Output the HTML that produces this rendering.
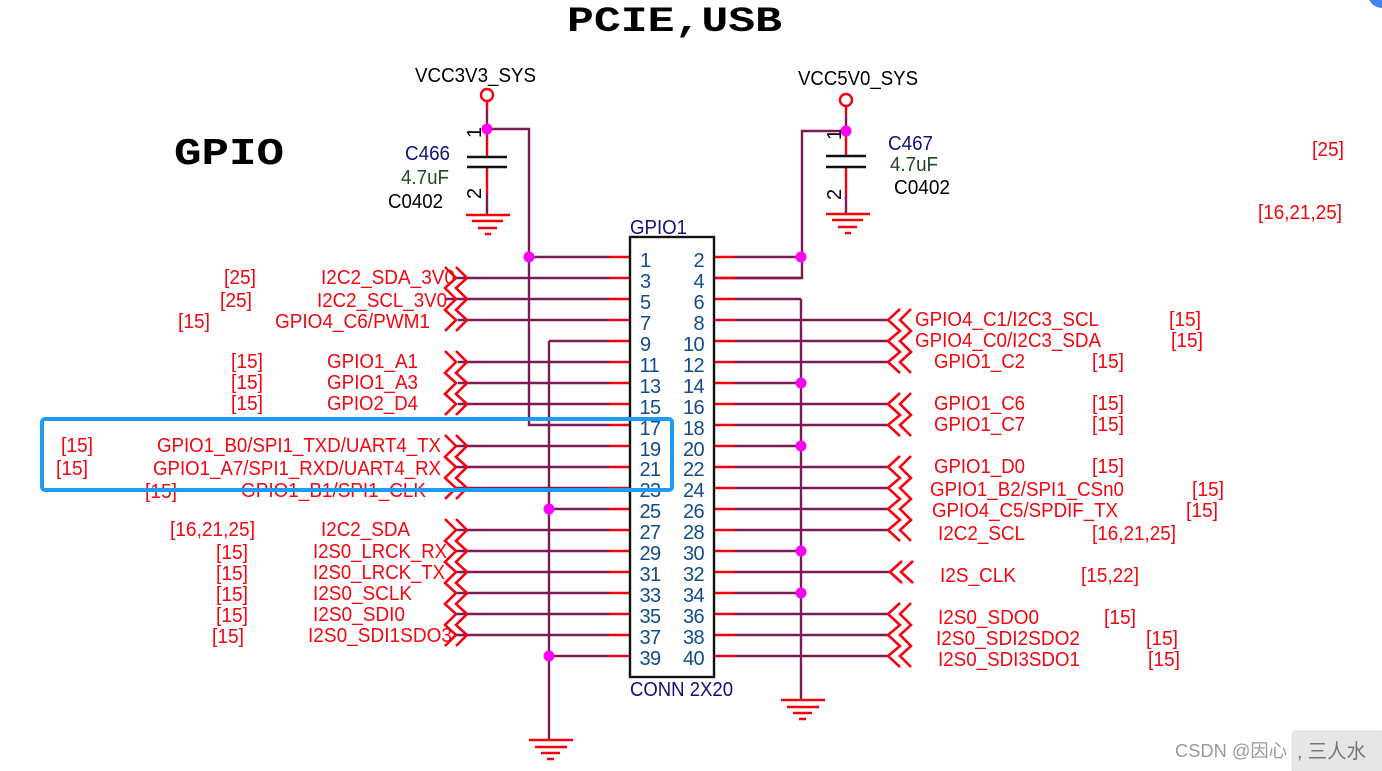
<!DOCTYPE html>
<html><head><meta charset="utf-8"><style>
html,body{margin:0;padding:0;background:#fff;width:1382px;height:771px;overflow:hidden}
svg{display:block}
text{font-family:"Liberation Sans","Noto Sans CJK SC",sans-serif;font-size:20px}
.r text{fill:#f5050f}
.n text{fill:#114b8c;letter-spacing:-.6px}
.w path{fill:none;stroke:#7d1a56;stroke-width:2.4}
.s path{fill:none;stroke:#f5000f;stroke-width:2.4}
.c path{fill:none;stroke:#f5000f;stroke-width:2.6}
.d circle{fill:#ff00ff}
</style></head><body>
<svg width="1382" height="771" viewBox="0 0 1382 771" xmlns="http://www.w3.org/2000/svg">
<circle cx="1382" cy="-6" r="14" fill="#3f86f0"/>
<text x="567" y="31" textLength="215" lengthAdjust="spacingAndGlyphs" style="font-family:'Liberation Mono',monospace;font-weight:bold;font-size:35px">PCIE,USB</text>
<text x="174" y="164" textLength="110" lengthAdjust="spacingAndGlyphs" style="font-family:'Liberation Mono',monospace;font-weight:bold;font-size:38px">GPIO</text>

<g class="w">
<path d="M487 110V129H529V425H609M846 115V131H802V278H714M487 195V215M846 195V214"/>
<path d="M529 257H609M455 278H609M445 299H609M458 320H609M549 341H609M458 362H609M458 383H609M458 404H609M455 446H609M455 467H609M455 488H609M549 509H609M455 530H609M455 551H609M455 572H609M455 593H609M455 614H609M455 635H609M549 656H609"/>
<path d="M549 341V740M801 299V700"/>
<path d="M735 257H801M735 278H801M735 299H801M735 320H888M735 341H888M735 362H888M735 383H801M735 404H888M735 425H888M735 446H801M735 467H888M735 488H888M735 509H888M735 530H888M735 551H801M735 572H890M735 593H801M735 614H888M735 635H888M735 656H888"/>
</g>
<g class="s">
<path d="M609 257H630M609 278H630M609 299H630M609 320H630M609 341H630M609 362H630M609 383H630M609 404H630M609 425H630M609 446H630M609 467H630M609 488H630M609 509H630M609 530H630M609 551H630M609 572H630M609 593H630M609 614H630M609 635H630M609 656H630"/>
<path d="M714 257H735M714 278H735M714 299H735M714 320H735M714 341H735M714 362H735M714 383H735M714 404H735M714 425H735M714 446H735M714 467H735M714 488H735M714 509H735M714 530H735M714 551H735M714 572H735M714 593H735M714 614H735M714 635H735M714 656H735"/>
<path d="M487 129V157M487 167V195M846 131V156M846 167V195M487 101V110M846 106V115"/>
</g>

<!-- power symbols -->
<g fill="none" stroke="#f5000f" stroke-width="2.4">
<circle cx="487" cy="95" r="6"/><circle cx="846" cy="100" r="6"/>
</g>
<path d="M467 157H507M467 167H507M826 156H866M826 167H866" stroke="#111" stroke-width="2.4" fill="none"/>

<!-- grounds -->
<g class="c">
<path d="M466 215H510M472 221H503M478 228H497M485 234H491"/>
<path d="M826 214H870M832 220H863M838 227H857M845 233H851"/>
<path d="M529 740H573M535 747H567M541 753H560M547 759H554"/>
<path d="M781 700H825M787 707H819M793 713H812M799 719H806"/>
</g>

<!-- off page connectors left -->
<g class="c">
<path d="M445 267L456 278L445 288L456 299L445 310L456 320L445 331M456 267L467 278L456 288L467 299L456 310L467 320L456 331"/>
<path d="M445 351L456 362L445 373L456 383L445 394L456 404L445 415M456 351L467 362L456 373L467 383L456 394L467 404L456 415"/>
<path d="M445 435L456 446L445 457L456 467L445 478L456 488L445 499M456 435L467 446L456 457L467 467L456 478L467 488L456 499"/>
<path d="M445 519L456 530L445 541L456 551L445 562L456 572L445 583L456 593L445 604L456 614L445 625L456 635L445 646M456 519L467 530L456 541L467 551L456 562L467 572L456 583L467 593L456 604L467 614L456 625L467 635L456 646"/>
<!-- right -->
<path d="M900 309L888 320L900 331L888 341L900 352L888 362L900 373M911 309L900 320L911 331L900 341L911 352L900 362L911 373"/>
<path d="M900 393L888 404L900 415L888 425L900 436M911 393L900 404L911 415L900 425L911 436"/>
<path d="M900 456L888 467L900 478L888 488L900 499L888 509L900 520L888 530L900 541M911 456L900 467L911 478L900 488L911 499L900 509L911 520L900 530L911 541"/>
<path d="M902 561L890 572L902 583M913 561L901 572L913 583"/>
<path d="M900 603L888 614L900 625L888 635L900 646L888 656L900 667M911 603L900 614L911 625L900 635L911 646L900 656L911 667"/>
</g>

<!-- connector box -->
<rect x="630" y="237" width="84" height="440" fill="none" stroke="#111" stroke-width="2.4"/>

<g class="d">
<circle cx="487" cy="129" r="5.5"/><circle cx="846" cy="131" r="5.5"/>
<circle cx="529" cy="257" r="5.5"/><circle cx="801" cy="257" r="5.5"/>
<circle cx="801" cy="383" r="5.5"/><circle cx="801" cy="446" r="5.5"/>
<circle cx="801" cy="551" r="5.5"/><circle cx="801" cy="593" r="5.5"/>
<circle cx="549" cy="509" r="5.5"/><circle cx="549" cy="656" r="5.5"/>
</g>

<!-- component labels -->
<text x="415" y="82" textLength="121" lengthAdjust="spacingAndGlyphs">VCC3V3_SYS</text>
<text x="798" y="85" textLength="120" lengthAdjust="spacingAndGlyphs">VCC5V0_SYS</text>
<text x="405" y="160" textLength="45" lengthAdjust="spacingAndGlyphs" fill="#10107a">C466</text>
<text x="401" y="184" textLength="48" lengthAdjust="spacingAndGlyphs" fill="#1f4a1f">4.7uF</text>
<text x="388" y="208" textLength="55" lengthAdjust="spacingAndGlyphs">C0402</text>
<text x="888" y="150" textLength="45" lengthAdjust="spacingAndGlyphs" fill="#10107a">C467</text>
<text x="890" y="171" textLength="48" lengthAdjust="spacingAndGlyphs" fill="#1f4a1f">4.7uF</text>
<text x="894" y="194" textLength="56" lengthAdjust="spacingAndGlyphs">C0402</text>
<text transform="translate(481,138) rotate(-90)">1</text>
<text transform="translate(481,199) rotate(-90)">2</text>
<text transform="translate(841,140) rotate(-90)">1</text>
<text transform="translate(841,200) rotate(-90)">2</text>
<text x="630" y="234" textLength="57" lengthAdjust="spacingAndGlyphs" fill="#10107a">GPIO1</text>
<text x="630" y="696" textLength="103" lengthAdjust="spacingAndGlyphs" fill="#10107a">CONN 2X20</text>

<!-- pin numbers -->
<g class="n">
<text x="640" y="267">1</text><text x="640" y="288">3</text><text x="640" y="309">5</text><text x="640" y="330">7</text><text x="640" y="351">9</text>
<text x="639.5" y="372">11</text><text x="639.5" y="393">13</text><text x="639.5" y="414">15</text><text x="639.5" y="435">17</text><text x="639.5" y="456">19</text><text x="639.5" y="476">21</text><text x="639.5" y="497">23</text><text x="639.5" y="518">25</text><text x="639.5" y="539">27</text><text x="639.5" y="560">29</text><text x="639.5" y="581">31</text><text x="639.5" y="602">33</text><text x="639.5" y="623">35</text><text x="639.5" y="644">37</text><text x="639.5" y="665">39</text>
</g>
<g class="n" text-anchor="end">
<text x="704" y="267">2</text><text x="704" y="288">4</text><text x="704" y="309">6</text><text x="704" y="330">8</text><text x="704" y="351">10</text><text x="704" y="372">12</text><text x="704" y="393">14</text><text x="704" y="414">16</text><text x="704" y="435">18</text><text x="704" y="456">20</text><text x="704" y="476">22</text><text x="704" y="497">24</text><text x="704" y="518">26</text><text x="704" y="539">28</text><text x="704" y="560">30</text><text x="704" y="581">32</text><text x="704" y="602">34</text><text x="704" y="623">36</text><text x="704" y="644">38</text><text x="704" y="665">40</text>
</g>

<!-- net labels -->
<g class="r">
<text x="1312" y="156" textLength="32" lengthAdjust="spacingAndGlyphs">[25]</text>
<text x="1258" y="219" textLength="84" lengthAdjust="spacingAndGlyphs">[16,21,25]</text>

<text x="224" y="284" textLength="32" lengthAdjust="spacingAndGlyphs">[25]</text>
<text x="321" y="284" textLength="134" lengthAdjust="spacingAndGlyphs">I2C2_SDA_3V0</text>
<text x="220" y="307" textLength="32" lengthAdjust="spacingAndGlyphs">[25]</text>
<text x="317" y="307" textLength="130" lengthAdjust="spacingAndGlyphs">I2C2_SCL_3V0</text>
<text x="178" y="328" textLength="32" lengthAdjust="spacingAndGlyphs">[15]</text>
<text x="275" y="328" textLength="155" lengthAdjust="spacingAndGlyphs">GPIO4_C6/PWM1</text>
<text x="231" y="368" textLength="32" lengthAdjust="spacingAndGlyphs">[15]</text>
<text x="327" y="368" textLength="91" lengthAdjust="spacingAndGlyphs">GPIO1_A1</text>
<text x="231" y="389" textLength="32" lengthAdjust="spacingAndGlyphs">[15]</text>
<text x="327" y="389" textLength="91" lengthAdjust="spacingAndGlyphs">GPIO1_A3</text>
<text x="231" y="410" textLength="32" lengthAdjust="spacingAndGlyphs">[15]</text>
<text x="327" y="410" textLength="91" lengthAdjust="spacingAndGlyphs">GPIO2_D4</text>
<text x="61" y="452" textLength="32" lengthAdjust="spacingAndGlyphs">[15]</text>
<text x="157" y="452" textLength="284" lengthAdjust="spacingAndGlyphs">GPIO1_B0/SPI1_TXD/UART4_TX</text>
<text x="56" y="475" textLength="32" lengthAdjust="spacingAndGlyphs">[15]</text>
<text x="153" y="475" textLength="288" lengthAdjust="spacingAndGlyphs">GPIO1_A7/SPI1_RXD/UART4_RX</text>
<text x="145" y="498" textLength="32" lengthAdjust="spacingAndGlyphs">[15]</text>
<text x="241" y="497" textLength="185" lengthAdjust="spacingAndGlyphs">GPIO1_B1/SPI1_CLK</text>
<text x="170" y="536" textLength="85" lengthAdjust="spacingAndGlyphs">[16,21,25]</text>
<text x="321" y="536" textLength="89" lengthAdjust="spacingAndGlyphs">I2C2_SDA</text>
<text x="216" y="559" textLength="32" lengthAdjust="spacingAndGlyphs">[15]</text>
<text x="313" y="558" textLength="134" lengthAdjust="spacingAndGlyphs">I2S0_LRCK_RX</text>
<text x="216" y="580" textLength="32" lengthAdjust="spacingAndGlyphs">[15]</text>
<text x="313" y="579" textLength="132" lengthAdjust="spacingAndGlyphs">I2S0_LRCK_TX</text>
<text x="216" y="601" textLength="32" lengthAdjust="spacingAndGlyphs">[15]</text>
<text x="313" y="600" textLength="99" lengthAdjust="spacingAndGlyphs">I2S0_SCLK</text>
<text x="216" y="622" textLength="32" lengthAdjust="spacingAndGlyphs">[15]</text>
<text x="313" y="621" textLength="92" lengthAdjust="spacingAndGlyphs">I2S0_SDI0</text>
<text x="212" y="643" textLength="32" lengthAdjust="spacingAndGlyphs">[15]</text>
<text x="308" y="642" textLength="144" lengthAdjust="spacingAndGlyphs">I2S0_SDI1SDO3</text>

<text x="915" y="326" textLength="184" lengthAdjust="spacingAndGlyphs">GPIO4_C1/I2C3_SCL</text>
<text x="1169" y="326" textLength="32" lengthAdjust="spacingAndGlyphs">[15]</text>
<text x="915" y="347" textLength="186" lengthAdjust="spacingAndGlyphs">GPIO4_C0/I2C3_SDA</text>
<text x="1171" y="347" textLength="32" lengthAdjust="spacingAndGlyphs">[15]</text>
<text x="934" y="368" textLength="91" lengthAdjust="spacingAndGlyphs">GPIO1_C2</text>
<text x="1092" y="368" textLength="32" lengthAdjust="spacingAndGlyphs">[15]</text>
<text x="934" y="410" textLength="91" lengthAdjust="spacingAndGlyphs">GPIO1_C6</text>
<text x="1092" y="410" textLength="32" lengthAdjust="spacingAndGlyphs">[15]</text>
<text x="934" y="431" textLength="91" lengthAdjust="spacingAndGlyphs">GPIO1_C7</text>
<text x="1092" y="431" textLength="32" lengthAdjust="spacingAndGlyphs">[15]</text>
<text x="934" y="473" textLength="91" lengthAdjust="spacingAndGlyphs">GPIO1_D0</text>
<text x="1092" y="473" textLength="32" lengthAdjust="spacingAndGlyphs">[15]</text>
<text x="930" y="496" textLength="194" lengthAdjust="spacingAndGlyphs">GPIO1_B2/SPI1_CSn0</text>
<text x="1192" y="496" textLength="32" lengthAdjust="spacingAndGlyphs">[15]</text>
<text x="932" y="517" textLength="186" lengthAdjust="spacingAndGlyphs">GPIO4_C5/SPDIF_TX</text>
<text x="1186" y="517" textLength="32" lengthAdjust="spacingAndGlyphs">[15]</text>
<text x="938" y="540" textLength="87" lengthAdjust="spacingAndGlyphs">I2C2_SCL</text>
<text x="1092" y="540" textLength="84" lengthAdjust="spacingAndGlyphs">[16,21,25]</text>
<text x="940" y="582" textLength="76" lengthAdjust="spacingAndGlyphs">I2S_CLK</text>
<text x="1081" y="582" textLength="58" lengthAdjust="spacingAndGlyphs">[15,22]</text>
<text x="938" y="624" textLength="101" lengthAdjust="spacingAndGlyphs">I2S0_SDO0</text>
<text x="1104" y="624" textLength="32" lengthAdjust="spacingAndGlyphs">[15]</text>
<text x="936" y="645" textLength="144" lengthAdjust="spacingAndGlyphs">I2S0_SDI2SDO2</text>
<text x="1146" y="645" textLength="32" lengthAdjust="spacingAndGlyphs">[15]</text>
<text x="938" y="666" textLength="142" lengthAdjust="spacingAndGlyphs">I2S0_SDI3SDO1</text>
<text x="1148" y="666" textLength="32" lengthAdjust="spacingAndGlyphs">[15]</text>
</g>

<!-- highlight box -->
<rect x="42" y="419" width="630" height="71" rx="3" fill="none" stroke="#1e9bf5" stroke-width="4"/>

<!-- watermark -->
<rect x="1292" y="731" width="92" height="42" rx="4" fill="#e6e6e6" stroke="#dcdcdc"/>
<text x="1175" y="757" textLength="112" lengthAdjust="spacingAndGlyphs" fill="#9a9a9a" style="font-size:18px">CSDN @因心</text>
<text x="1297" y="758" textLength="69" lengthAdjust="spacingAndGlyphs" fill="#777" style="font-size:20px">, 三人水</text>
</svg>
</body></html>
